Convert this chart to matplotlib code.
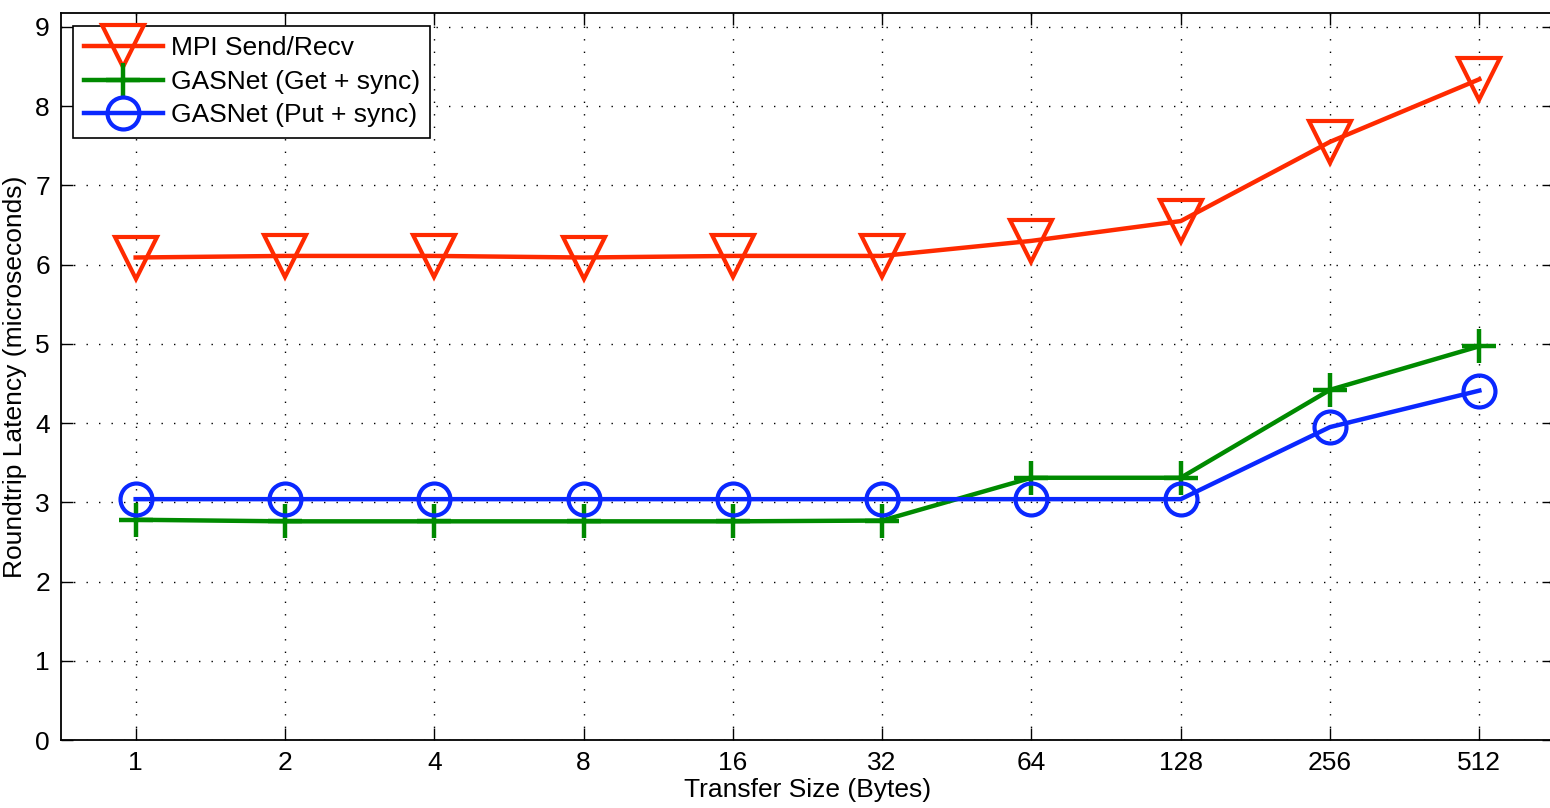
import matplotlib
matplotlib.use("Agg")
import matplotlib.pyplot as plt

sizes = ["1", "2", "4", "8", "16", "32", "64", "128", "256", "512"]
mpi = [6.09, 6.11, 6.11, 6.09, 6.11, 6.11, 6.30, 6.55, 7.55, 8.34]
get_sync = [2.78, 2.76, 2.76, 2.76, 2.76, 2.77, 3.31, 3.31, 4.42, 4.97]
put_sync = [3.04, 3.04, 3.04, 3.04, 3.04, 3.04, 3.04, 3.04, 3.95, 4.41]

plt.rcParams['font.family'] = ['Liberation Sans', 'DejaVu Sans']

fig = plt.figure(figsize=(15.5, 8.08), dpi=100)
ax = fig.add_axes([61/1550, 68/808, (1554-61)/1550, (740-12.7)/808])

x = list(range(1, len(sizes) + 1))
lw = 3.2
ax.plot(x, mpi, color='#ff2a00', lw=lw, marker='v', markersize=30,
        markerfacecolor='none', markeredgewidth=3.0, label='MPI Send/Recv', zorder=3)
ax.plot(x, get_sync, color='#008a00', lw=lw, marker='+', markersize=24,
        markeredgewidth=3.2, label='GASNet (Get + sync)', zorder=3)
ax.plot(x, put_sync, color='#0a28ff', lw=lw, marker='o', markersize=23,
        markerfacecolor='none', markeredgewidth=3.0, label='GASNet (Put + sync)', zorder=3)

ax.set_xlim(0.5, 10.5)
ax.set_ylim(0, 9.18)
ax.set_xticks(x)
ax.set_xticklabels(sizes)
ax.set_yticks(range(0, 10))
ax.tick_params(direction='in', length=8.5, width=1, labelsize=19, top=True, right=True, pad=8)
ax.grid(True, color='black', linestyle=(0, (1, 8)), linewidth=1.0)
for s in ax.spines.values():
    s.set_linewidth(1.3)

ax.set_xlabel('Transfer Size (Bytes)', fontsize=19, labelpad=2)
ax.set_ylabel('Roundtrip Latency (microseconds)', fontsize=19, labelpad=6)

leg = ax.legend(loc='upper left', fontsize=19, handlelength=3.0, frameon=True,
                fancybox=False, edgecolor='black', framealpha=1,
                bbox_to_anchor=(12/1493, 1 - 13/727), borderaxespad=0,
                labelspacing=0.36, borderpad=0.4, handletextpad=0.3)
leg.get_frame().set_linewidth(1.2)

fig.savefig('out.png', dpi=100)
